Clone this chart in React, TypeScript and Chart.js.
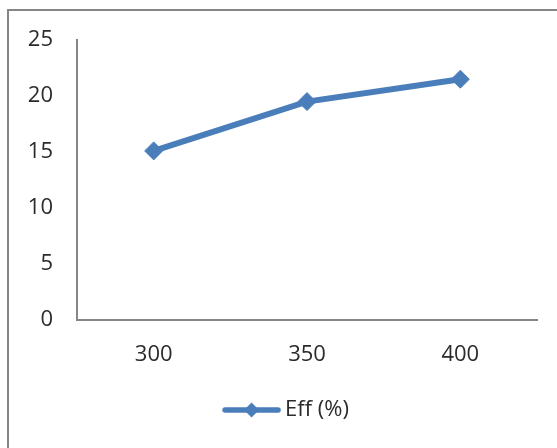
import React, { useEffect, useRef } from "react";
import { Chart, registerables } from "chart.js";

Chart.register(...registerables);

const categories = ["300", "350", "400"];
const effValues = [15.1, 19.5, 21.5];
const seriesLabel = "Eff (%)";
const yMin = 0;
const yMax = 25;
const yStep = 5;

const LINE_COLOR = "#4a7ebb";
const AXIS_COLOR = "#868686";
const TEXT_COLOR = "#2b2b2b";
const FONT_FAMILY = "'Open Sans', sans-serif";
const FONT_SIZE = 22;

function makeLegendSymbol(): HTMLCanvasElement {
  const c = document.createElement("canvas");
  c.width = 104;
  c.height = 18;
  const ctx = c.getContext("2d")!;
  ctx.strokeStyle = LINE_COLOR;
  ctx.lineWidth = 5.5;
  ctx.lineCap = "round";
  ctx.beginPath();
  ctx.moveTo(46, 9);
  ctx.lineTo(99, 9);
  ctx.stroke();
  ctx.fillStyle = LINE_COLOR;
  ctx.beginPath();
  ctx.moveTo(72.5, 1.5);
  ctx.lineTo(80, 9);
  ctx.lineTo(72.5, 16.5);
  ctx.lineTo(65, 9);
  ctx.closePath();
  ctx.fill();
  return c;
}

export default function App() {
  const ref = useRef<HTMLCanvasElement | null>(null);

  useEffect(() => {
    document.body.style.overflow = "hidden";
    const canvas = ref.current!;
    const symbol = makeLegendSymbol();
    const chart = new Chart(canvas, {
      type: "line",
      data: {
        labels: categories,
        datasets: [
          {
            label: seriesLabel,
            data: effValues,
            borderColor: LINE_COLOR,
            backgroundColor: LINE_COLOR,
            borderWidth: 6,
            pointStyle: "rectRot",
            pointRadius: 9,
            pointBorderWidth: 1,
            pointBackgroundColor: LINE_COLOR,
            pointBorderColor: LINE_COLOR,
            tension: 0,
            fill: false,
          },
        ],
      },
      options: {
        responsive: false,
        animation: false,
        devicePixelRatio: 1,
        layout: { padding: { left: 0, right: 20, top: 40, bottom: 17 } },
        font: { family: FONT_FAMILY, size: FONT_SIZE },
        scales: {
          x: {
            type: "category",
            offset: true,
            grid: { display: false, drawTicks: false },
            border: { display: true, color: AXIS_COLOR, width: 2 },
            ticks: {
              color: TEXT_COLOR,
              padding: 22,
              maxRotation: 0,
              font: { family: FONT_FAMILY, size: FONT_SIZE },
            },
            afterFit: (scale: any) => {
              scale.height = 69;
            },
          },
          y: {
            min: yMin,
            max: yMax,
            grid: { display: false, drawTicks: false },
            border: { display: true, color: AXIS_COLOR, width: 2 },
            ticks: {
              stepSize: yStep,
              color: TEXT_COLOR,
              padding: 24,
              font: { family: FONT_FAMILY, size: FONT_SIZE },
            },
            afterFit: (scale: any) => {
              scale.width = 77;
            },
          },
        },
        plugins: {
          title: { display: false },
          tooltip: { enabled: false },
          legend: {
            display: true,
            position: "bottom",
            labels: {
              usePointStyle: true,
              pointStyle: symbol as any,
              pointStyleWidth: 86,
              padding: 10,
              color: TEXT_COLOR,
              font: { family: FONT_FAMILY, size: FONT_SIZE },
            },
          },
        },
      },
    });
    return () => chart.destroy();
  }, []);

  return (
    <div>
      <div
        style={{
          position: "fixed",
          left: 7,
          top: 9,
          right: 0,
          bottom: 0,
          borderTop: `2px solid ${AXIS_COLOR}`,
          borderLeft: `2px solid ${AXIS_COLOR}`,
          pointerEvents: "none",
        }}
      />
      <canvas
        ref={ref}
        width={557}
        height={448}
        style={{ position: "fixed", left: 0, top: 0, width: 557, height: 448 }}
      />
    </div>
  );
}
